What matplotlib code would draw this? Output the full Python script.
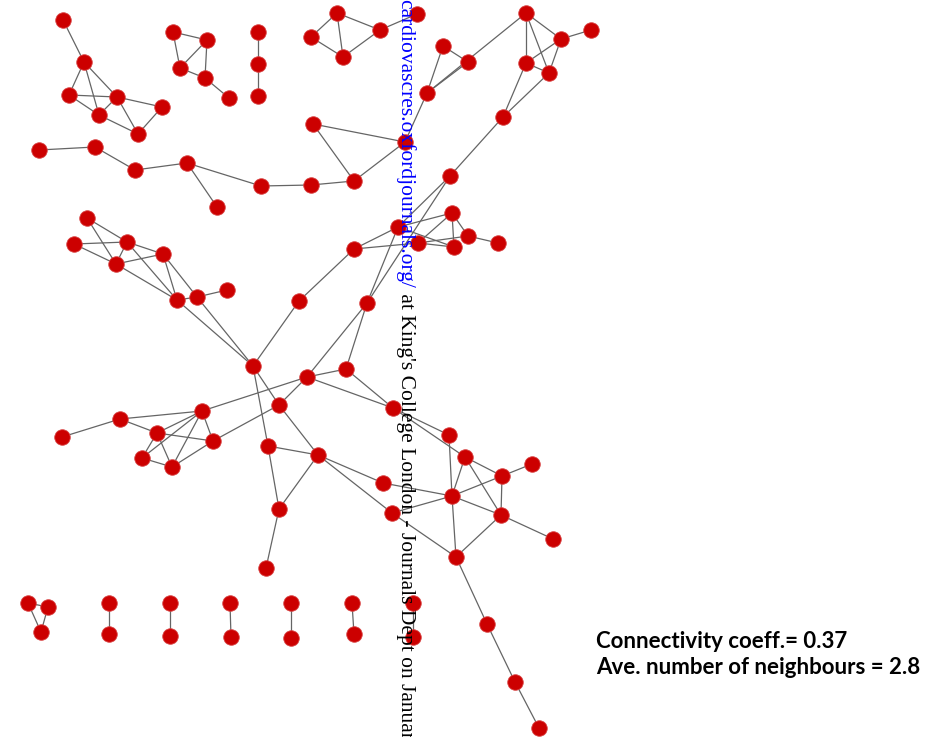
#!/usr/bin/env python3
"""
Interaction network plot: red nodes, grey edges, summary statistics.
Coordinates are in pixel units of the output canvas.
"""

import matplotlib
matplotlib.use("Agg")
import matplotlib.pyplot as plt

# Node names and layout positions
node_names = [
    "a1", "a2", "a3", "a4", "a5", "a6", "a7",
    "b1", "b2", "b3", "b4", "b5",
    "c1", "c2", "c3",
    "d1", "d2", "d3", "d4", "d5", "d6", "d7", "d8", "d9", "h",
    "e1", "e2", "e3", "e4", "e5",
    "f1", "f2", "f3",
    "g1", "g2", "g3", "g4", "g5", "g6",
    "i1", "i2", "i3", "i4", "i5", "i6", "i7", "i8", "i9", "i10",
    "k1", "k2", "k3", "k4", "k5", "k6", "k7", "k8", "hub",
    "j1", "j2", "j3", "j4", "j5", "j6",
    "l1", "l2", "l3", "l4", "l5", "l6", "l7",
    "m1", "m2",
    "n1", "n2", "n3", "n4", "n5", "n6", "n7", "n8", "n9", "n10",
    "o1", "o2", "o3",
    "p1", "p2", "p3",
    "q1", "q2", "r1", "r2", "s1", "s2", "t1", "t2", "u1", "u2", "v1", "v2",
]
node_x = [
    63, 84, 69, 117, 99, 162, 138,
    173, 207, 180, 205, 229,
    258, 258, 258,
    39, 95, 135, 187, 217, 261, 311, 354, 313, 405,
    337, 311, 380, 343, 417,
    443, 468, 427,
    526, 561, 591, 526, 549, 503,
    450, 452, 398, 418, 454, 468, 498, 354, 299, 367,
    87, 74, 127, 116, 163, 177, 197, 227, 253,
    307, 346, 279, 393, 268, 318,
    62, 120, 202, 157, 213, 142, 172,
    279, 266,
    449, 465, 502, 532, 383, 452, 392, 501, 553, 456,
    487, 515, 539,
    28, 48, 41,
    109, 109, 170, 170, 230, 231, 291, 291, 352, 354, 413, 413,
]
node_y = [
    20, 62, 95, 97, 115, 107, 134,
    32, 40, 68, 78, 98,
    32, 64, 96,
    150, 147, 170, 163, 207, 186, 185, 181, 124, 142,
    13, 37, 30, 57, 14,
    46, 62, 93,
    13, 39, 30, 63, 73, 117,
    176, 213, 227, 243, 247, 236, 243, 249, 301, 303,
    218, 244, 242, 264, 254, 300, 297, 290, 366,
    377, 369, 405, 408, 446, 455,
    437, 419, 411, 433, 441, 458, 467,
    509, 568,
    435, 457, 476, 464, 483, 496, 513, 515, 539, 557,
    624, 682, 728,
    603, 607, 632,
    603, 634, 603, 636, 603, 637, 603, 638, 603, 634, 603, 637,
]

edges = [
    ("a1", "a2"), ("a2", "a3"), ("a2", "a4"), ("a2", "a5"), ("a3", "a4"),
    ("a3", "a5"), ("a4", "a5"), ("a4", "a6"), ("a4", "a7"), ("a5", "a7"),
    ("a6", "a7"),
    ("b1", "b2"), ("b1", "b3"), ("b2", "b3"), ("b2", "b4"), ("b3", "b4"),
    ("b4", "b5"),
    ("c1", "c2"), ("c2", "c3"),
    ("d1", "d2"), ("d2", "d3"), ("d3", "d4"), ("d4", "d5"), ("d4", "d6"),
    ("d6", "d7"), ("d7", "d8"), ("d8", "d9"), ("d9", "h"), ("d8", "h"),
    ("h", "f3"),
    ("e1", "e2"), ("e1", "e3"), ("e1", "e4"), ("e2", "e4"), ("e3", "e4"),
    ("e3", "e5"),
    ("f1", "f2"), ("f1", "f3"), ("f2", "f3"), ("f3", "g1"),
    ("g1", "g2"), ("g1", "g4"), ("g1", "g5"), ("g2", "g3"), ("g2", "g4"),
    ("g2", "g5"), ("g4", "g5"), ("g4", "g6"), ("g5", "g6"), ("g6", "i1"),
    ("i1", "i3"), ("i1", "i10"), ("i2", "i3"), ("i2", "i4"), ("i2", "i5"),
    ("i2", "i6"), ("i3", "i5"), ("i3", "i8"), ("i3", "i10"), ("i4", "i6"),
    ("i4", "i5"), ("i4", "i8"), ("i6", "i7"), ("i8", "i9"), ("i9", "hub"),
    ("k1", "k3"), ("k1", "k4"), ("k2", "k3"), ("k2", "k4"), ("k3", "k4"),
    ("k3", "k5"), ("k4", "k5"), ("k3", "k6"), ("k4", "k6"), ("k5", "k6"),
    ("k5", "k7"), ("k6", "k7"), ("k7", "k8"), ("k6", "hub"), ("k7", "hub"),
    ("hub", "j3"), ("hub", "j5"),
    ("j1", "j2"), ("j1", "j3"), ("j1", "j4"), ("j2", "j4"), ("j1", "i10"),
    ("j2", "i10"), ("j3", "j6"), ("j5", "j6"),
    ("l1", "l2"), ("l2", "l3"), ("l2", "l4"), ("l3", "l4"), ("l4", "l5"),
    ("l4", "l6"), ("l4", "l7"), ("l3", "l6"), ("l3", "l7"), ("l3", "l5"),
    ("l6", "l7"), ("l7", "l5"), ("l3", "j1"), ("l5", "j3"),
    ("j5", "m1"), ("m1", "m2"), ("m1", "j6"),
    ("j4", "n1"), ("j4", "n2"), ("n1", "n6"), ("n2", "n6"), ("n2", "n3"),
    ("n2", "n8"), ("n3", "n4"), ("n3", "n6"), ("n3", "n8"), ("n6", "n8"),
    ("n8", "n9"), ("n6", "n5"), ("n6", "n7"), ("n6", "n10"), ("n8", "n10"),
    ("j6", "n5"), ("j6", "n7"), ("n7", "n10"),
    ("n10", "o1"), ("o1", "o2"), ("o2", "o3"),
    ("p1", "p2"), ("p1", "p3"), ("p2", "p3"),
    ("q1", "q2"), ("r1", "r2"), ("s1", "s2"), ("t1", "t2"), ("u1", "u2"),
    ("v1", "v2"),
]

stats_lines = ["Connectivity coeff.= 0.37", "Ave. number of neighbours = 2.8"]
url_text = "cardiovascres.oxfordjournals.org/"
access_text = " at King's College London - Journals Dept on January"

W, H = 946, 737
fig = plt.figure(figsize=(W / 100, H / 100), dpi=100)
ax = fig.add_axes([0, 0, 1, 1])
ax.set_xlim(0, W)
ax.set_ylim(H, 0)
ax.axis("off")

pos = {n: (x, y) for n, x, y in zip(node_names, node_x, node_y)}

for u, v in edges:
    (x0, y0), (x1, y1) = pos[u], pos[v]
    ax.plot([x0, x1], [y0, y1], color="#656565", lw=0.9, zorder=1,
            solid_capstyle="round")

ax.scatter(node_x, node_y, s=125, color="#cc0000", edgecolors="#d84040",
           linewidths=0.6, zorder=2)

for line, y in zip(stats_lines, [641, 668]):
    ax.text(596, y, line, fontsize=16, fontweight="bold", family="Lato",
            ha="left", va="center", zorder=3)

# vertical access watermark, reading top to bottom
url = ax.text(405, -1, url_text, rotation=-90, fontsize=15.5,
              family="Liberation Serif", color="#0000ff",
              ha="center", va="top", zorder=4)
fig.canvas.draw()
bb = url.get_window_extent().transformed(ax.transData.inverted())
ax.text(405, max(bb.y0, bb.y1), access_text, rotation=-90, fontsize=15.5,
        family="Liberation Serif", color="black",
        ha="center", va="top", zorder=4)

fig.savefig("out.png", dpi=100)
